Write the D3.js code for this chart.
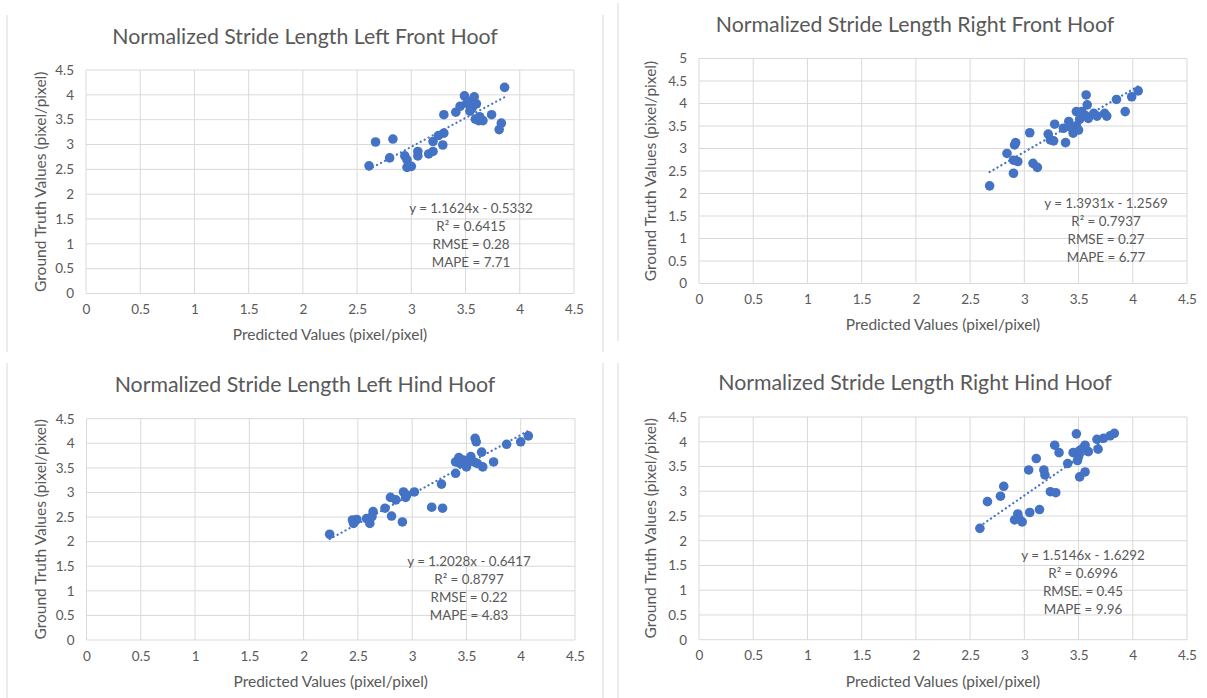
<!DOCTYPE html>
<html>
<head>
<meta charset="utf-8">
<script src="https://cdn.jsdelivr.net/npm/d3@7/dist/d3.min.js"></script>
<style>
  html, body { margin: 0; padding: 0; background: #fff; }
  svg { display: block; }
  text { font-family: Lato, "Open Sans", sans-serif; fill: #595959; }
</style>
</head>
<body>
<svg id="chart" width="1207" height="698"></svg>
<script>
// ---------- DATA ----------
const titles = [
  "Normalized Stride Length Left Front Hoof",
  "Normalized Stride Length Right Front Hoof",
  "Normalized Stride Length Left Hind Hoof",
  "Normalized Stride Length Right Hind Hoof"
];
const xAxisTitle = "Predicted Values (pixel/pixel)";
const yAxisTitle = "Ground Truth Values (pixel/pixel)";

const xTicks = [0, 0.5, 1, 1.5, 2, 2.5, 3, 3.5, 4, 4.5];
const yTicksA = [0, 0.5, 1, 1.5, 2, 2.5, 3, 3.5, 4, 4.5];
const yTicksB = [0, 0.5, 1, 1.5, 2, 2.5, 3, 3.5, 4, 4.5, 5];
const yMaxes = [4.5, 5, 4.5, 4.5];

const leftFrontX = [2.61, 2.67, 2.83, 2.80, 2.94, 2.96, 2.96, 3.00, 3.06, 3.06, 3.16, 3.20, 3.20, 3.25, 3.30, 3.29, 3.30, 3.41, 3.45, 3.49, 3.53, 3.58, 3.60, 3.56, 3.59, 3.62, 3.66, 3.74, 3.83, 3.81, 3.86, 3.51, 3.54, 3.63];
const leftFrontY = [2.57, 3.05, 3.11, 2.73, 2.77, 2.69, 2.54, 2.56, 2.86, 2.77, 2.81, 2.86, 3.06, 3.18, 3.23, 2.99, 3.60, 3.65, 3.77, 3.98, 3.87, 3.96, 3.82, 3.73, 3.51, 3.48, 3.48, 3.60, 3.43, 3.30, 4.15, 3.83, 3.67, 3.56];

const rightFrontX = [2.68, 2.84, 2.90, 2.94, 2.90, 2.91, 2.92, 3.05, 3.08, 3.12, 3.22, 3.24, 3.27, 3.28, 3.38, 3.41, 3.45, 3.48, 3.48, 3.51, 3.53, 3.56, 3.58, 3.57, 3.59, 3.64, 3.67, 3.74, 3.76, 3.85, 3.93, 3.99, 4.05, 3.42, 3.50, 3.36];
const rightFrontY = [2.17, 2.89, 2.74, 2.71, 2.45, 3.08, 3.13, 3.35, 2.67, 2.58, 3.32, 3.19, 3.17, 3.54, 3.13, 3.60, 3.34, 3.50, 3.82, 3.65, 3.82, 3.74, 3.97, 4.19, 3.67, 3.78, 3.72, 3.78, 3.72, 4.09, 3.82, 4.15, 4.28, 3.48, 3.41, 3.45];

const leftHindX = [2.24, 2.45, 2.49, 2.46, 2.58, 2.61, 2.64, 2.63, 2.75, 2.80, 2.81, 2.85, 2.91, 2.92, 2.94, 2.95, 3.02, 3.18, 3.28, 3.27, 3.40, 3.43, 3.44, 3.47, 3.50, 3.54, 3.57, 3.58, 3.59, 3.60, 3.64, 3.65, 3.75, 3.87, 4.00, 4.07, 3.51, 3.40];
const leftHindY = [2.15, 2.44, 2.45, 2.37, 2.47, 2.37, 2.61, 2.51, 2.68, 2.90, 2.52, 2.85, 2.40, 3.01, 2.90, 2.95, 3.01, 2.70, 2.68, 3.17, 3.39, 3.71, 3.59, 3.66, 3.52, 3.73, 3.62, 4.10, 4.03, 3.59, 3.82, 3.52, 3.62, 3.98, 4.03, 4.15, 3.62, 3.62];

const rightHindX = [2.59, 2.66, 2.78, 2.81, 2.91, 2.94, 2.95, 2.98, 3.05, 3.14, 3.04, 3.11, 3.18, 3.19, 3.24, 3.29, 3.28, 3.32, 3.40, 3.45, 3.48, 3.50, 3.51, 3.49, 3.51, 3.56, 3.56, 3.59, 3.68, 3.67, 3.73, 3.79, 3.83, 3.54];
const rightHindY = [2.25, 2.79, 2.90, 3.10, 2.42, 2.54, 2.45, 2.38, 2.57, 2.63, 3.43, 3.66, 3.43, 3.33, 2.99, 2.97, 3.93, 3.78, 3.56, 3.78, 4.16, 3.70, 3.82, 3.62, 3.29, 3.39, 3.93, 3.80, 3.85, 4.05, 4.07, 4.12, 4.17, 3.87];

const slopes = [1.1624, 1.3931, 1.2028, 1.5146];
const intercepts = [-0.5332, -1.2569, -0.6417, -1.6292];
const annotations = [
  ["y = 1.1624x - 0.5332", "R² = 0.6415", "RMSE = 0.28", "MAPE = 7.71"],
  ["y = 1.3931x - 1.2569", "R² = 0.7937", "RMSE = 0.27", "MAPE = 6.77"],
  ["y = 1.2028x - 0.6417", "R² = 0.8797", "RMSE = 0.22", "MAPE = 4.83"],
  ["y = 1.5146x - 1.6292", "R² = 0.6996", "RMSE. = 0.45", "MAPE = 9.96"]
];

const seriesX = [leftFrontX, rightFrontX, leftHindX, rightHindX];
const seriesY = [leftFrontY, rightFrontY, leftHindY, rightHindY];
const yTickSets = [yTicksA, yTicksB, yTicksA, yTicksA];

// ---------- LAYOUT ----------
const layout = [
  { x0: 86,  x1: 574,  yTop: 70,   yBot: 293.5, titleX: 305, titleY: 39,  annX: 471,  annY: 210, yTitleX: 42 },
  { x0: 699, x1: 1187, yTop: 58.5, yBot: 283.5, titleX: 915, titleY: 27,  annX: 1106, annY: 205, yTitleX: 652 },
  { x0: 86.5,x1: 575,  yTop: 418.7,yBot: 640,   titleX: 305, titleY: 387, annX: 469,  annY: 563, yTitleX: 42 },
  { x0: 699, x1: 1187, yTop: 417,  yBot: 639.7, titleX: 915, titleY: 385, annX: 1083, annY: 557, yTitleX: 652 }
];
const borders = [
  { x: 7, y1: 15, y2: 352 }, { x: 603, y1: 15, y2: 352 },
  { x: 618, y1: 3, y2: 341 },
  { x: 7, y1: 363, y2: 698 }, { x: 603, y1: 363, y2: 698 },
  { x: 618, y1: 363, y2: 698 }
];

const svg = d3.select("#chart");
const color = "#4472C4";
const gridColor = "#d9d9d9";

svg.selectAll("line.border").data(borders).enter().append("line")
  .attr("class", "border")
  .attr("x1", d => d.x).attr("x2", d => d.x)
  .attr("y1", d => d.y1).attr("y2", d => d.y2)
  .attr("stroke", "#ececec").attr("stroke-width", 2);

layout.forEach((L, i) => {
  const g = svg.append("g");
  const x = d3.scaleLinear().domain([0, 4.5]).range([L.x0, L.x1]);
  const y = d3.scaleLinear().domain([0, yMaxes[i]]).range([L.yBot, L.yTop]);

  // gridlines
  g.selectAll("line.vg").data(xTicks).enter().append("line")
    .attr("x1", d => x(d)).attr("x2", d => x(d))
    .attr("y1", L.yTop).attr("y2", L.yBot)
    .attr("stroke", gridColor).attr("stroke-width", 1);
  g.selectAll("line.hg").data(yTickSets[i]).enter().append("line")
    .attr("y1", d => y(d)).attr("y2", d => y(d))
    .attr("x1", L.x0).attr("x2", L.x1)
    .attr("stroke", gridColor).attr("stroke-width", 1);

  // axes via d3 axis generators (labels only)
  const xAxis = d3.axisBottom(x).tickValues(xTicks).tickSize(0).tickPadding(11).tickFormat(d3.format("~g"));
  const gx = g.append("g").attr("transform", `translate(0,${L.yBot})`).call(xAxis);
  gx.select(".domain").remove();
  gx.selectAll("text").style("font-family", "Lato, 'Open Sans', sans-serif").style("font-size", "13.5px").attr("fill", "#595959");

  const yAxis = d3.axisLeft(y).tickValues(yTickSets[i]).tickSize(0).tickPadding(12).tickFormat(d3.format("~g"));
  const gy = g.append("g").attr("transform", `translate(${L.x0},0)`).call(yAxis);
  gy.select(".domain").remove();
  gy.selectAll("text").style("font-family", "Lato, 'Open Sans', sans-serif").style("font-size", "13.5px").attr("fill", "#595959");

  // points
  const pts = seriesX[i].map((v, k) => [v, seriesY[i][k]]);
  g.selectAll("circle").data(pts).enter().append("circle")
    .attr("cx", d => x(d[0])).attr("cy", d => y(d[1]))
    .attr("r", 4.8).attr("fill", color);

  // trendline
  const xmin = d3.min(seriesX[i]), xmax = d3.max(seriesX[i]);
  const f = v => slopes[i] * v + intercepts[i];
  g.append("line")
    .attr("x1", x(xmin)).attr("y1", y(f(xmin)))
    .attr("x2", x(xmax)).attr("y2", y(f(xmax)))
    .attr("stroke", color).attr("stroke-width", 2.2)
    .attr("stroke-linecap", "round")
    .attr("stroke-dasharray", "0.1,4.4");

  // titles
  g.append("text").attr("x", L.titleX).attr("y", L.titleY)
    .attr("text-anchor", "middle").attr("dominant-baseline", "middle")
    .style("font-size", "21.3px").text(titles[i]);
  g.append("text").attr("x", (L.x0 + L.x1) / 2).attr("y", L.yBot + 43)
    .attr("text-anchor", "middle").attr("dominant-baseline", "middle")
    .style("font-size", "15.5px").text(xAxisTitle);
  g.append("text")
    .attr("transform", `translate(${L.yTitleX},${(L.yTop + L.yBot) / 2}) rotate(-90)`)
    .attr("text-anchor", "middle").attr("dominant-baseline", "middle")
    .style("font-size", "15.5px").text(yAxisTitle);

  // annotation
  annotations[i].forEach((t, k) => {
    g.append("text").attr("x", L.annX).attr("y", L.annY + k * 18)
      .attr("text-anchor", "middle").attr("dominant-baseline", "middle")
      .style("font-size", "13.4px").text(t);
  });
});
</script>
</body>
</html>
